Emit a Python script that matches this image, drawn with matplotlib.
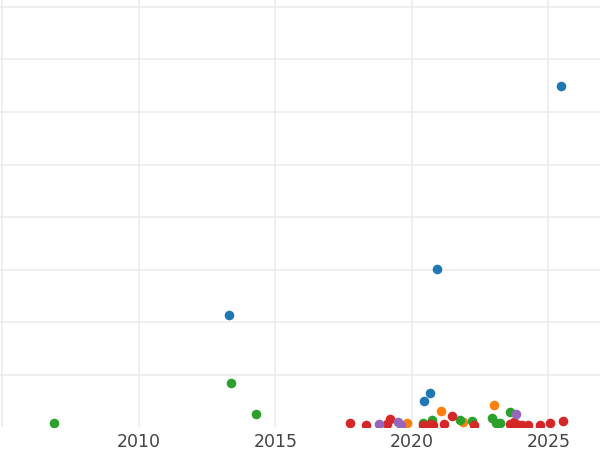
import matplotlib
matplotlib.use("Agg")
import matplotlib.pyplot as plt

# values (x = year, y = value)
blue_x = [2025.46, 2020.92, 2013.30, 2020.66, 2020.44]
blue_y = [650, 302, 213, 65, 51]

orange_x = [2023.02, 2021.07, 2019.82, 2021.88]
orange_y = [42, 32, 8, 10]

green_x = [2006.89, 2013.37, 2014.29, 2020.39, 2020.72, 2021.76, 2022.19,
           2022.94, 2023.07, 2023.22, 2023.59]
green_y = [9.5, 85.5, 26.6, 8, 15, 14.6, 12, 18, 8, 8, 29]

red_x = [2017.73, 2018.32, 2019.10, 2019.19, 2020.42, 2020.66, 2020.78,
         2021.17, 2021.45, 2022.28, 2023.59, 2023.75, 2023.89, 2024.03,
         2024.26, 2024.69, 2025.07, 2025.55]
red_y = [8, 4, 7, 16.5, 4, 7, 4, 6, 21, 4, 7, 10, 4, 4, 4, 5, 8, 13]

purple_x = [2018.80, 2019.48, 2019.60, 2023.81]
purple_y = [7, 10, 4, 26]

year_ticks = [2005, 2010, 2015, 2020, 2025]
year_labels = ['', '2010', '2015', '2020', '2025']

fig = plt.figure(figsize=(6, 4.5), dpi=100)
ax = fig.add_axes([0, 23 / 450, 1, 427 / 450])

series = [
    (blue_x, blue_y, '#1f77b4'),
    (orange_x, orange_y, '#ff7f0e'),
    (green_x, green_y, '#2ca02c'),
    (red_x, red_y, '#d62728'),
    (purple_x, purple_y, '#9467bd'),
]
for xs, ys, col in series:
    ax.scatter(xs, ys, s=48, color=col, linewidths=0, zorder=3)

ax.set_xlim(2004.91, 2026.89)
ax.set_ylim(1, 812.8)
ax.set_xticks(year_ticks)
ax.set_xticklabels(year_labels)
ax.set_yticks(range(100, 900, 100))
ax.set_yticklabels([])

ax.grid(True, color='#ebebeb', linewidth=1.1, zorder=0)
ax.set_axisbelow(True)
for sp in ax.spines.values():
    sp.set_visible(False)
ax.tick_params(length=0, labelsize=12.5, labelcolor='#444444', pad=4.5)

fig.savefig('out.png', dpi=100)
